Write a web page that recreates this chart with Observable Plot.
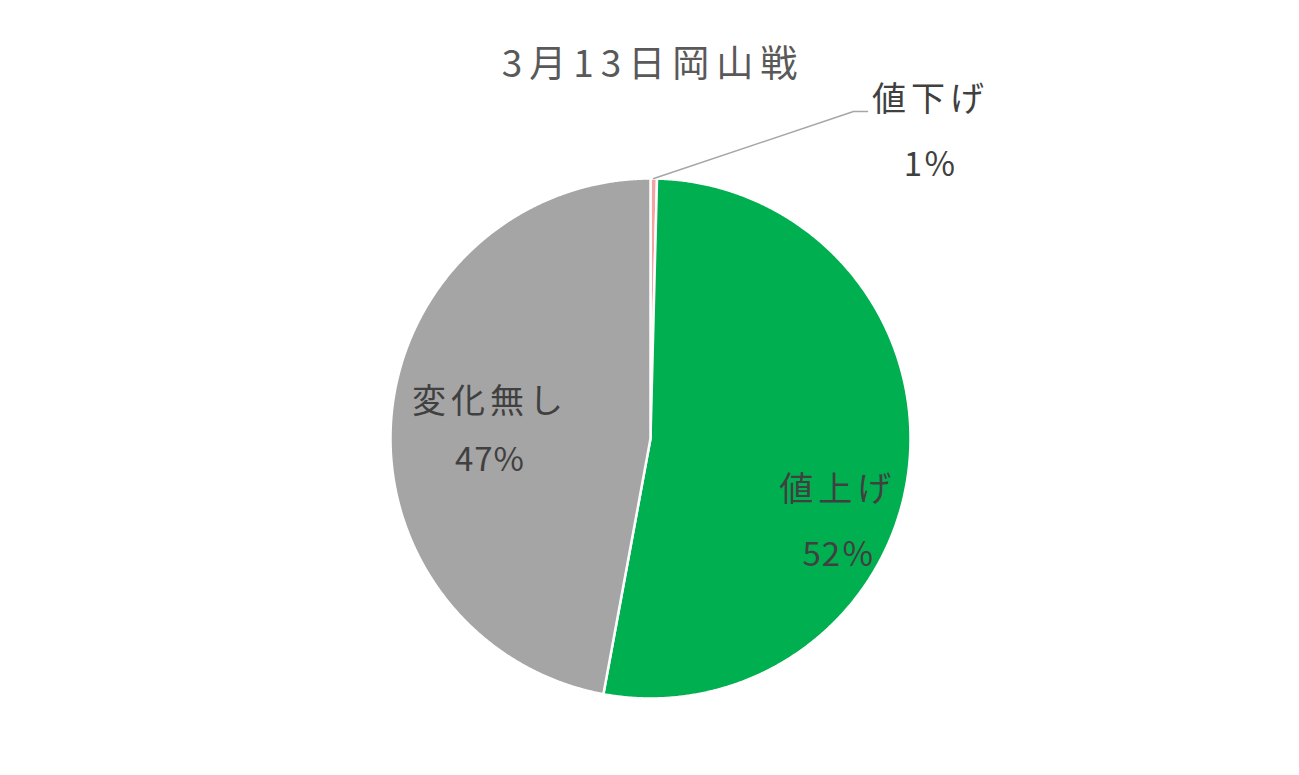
<!DOCTYPE html>
<html><head><meta charset="utf-8">
<script src="https://cdn.jsdelivr.net/npm/d3@7"></script>
<script src="https://cdn.jsdelivr.net/npm/@observablehq/plot@0.6"></script>
<style>
body{margin:0;background:#fff;font-family:"Noto Sans CJK JP",sans-serif;}
#wrap{position:relative;width:1299px;height:775px;overflow:hidden;}
#title{position:absolute;z-index:2;top:36px;left:0;width:1299px;text-align:center;font-size:37px;line-height:50px;color:#595959;letter-spacing:7px;padding-left:7px;box-sizing:border-box;}
#chart{position:absolute;z-index:1;top:0;left:0;}
#chart svg g.nm text{letter-spacing:5px;}
#chart svg g.pc text{letter-spacing:1px;}
</style></head><body>
<div id="wrap"><div id="chart"></div><div id="title"></div></div>
<script>
// ---- data ----
const titleText = "3月13日岡山戦";
const categories = ["値下げ", "値上げ", "変化無し"];
const values = [0.4, 52.5, 47.1];
const pctLabels = ["1％", "52％", "47%"];
const colors = ["#F4A3A3", "#00B050", "#A5A5A5"];

document.getElementById("title").textContent = titleText;

// ---- layout ----
const W = 1299, H = 775, cx = 650, cy = 438, R = 260;

const data = categories.map((c, i) => ({key: c, value: values[i], label: pctLabels[i], color: colors[i]}));
const arcs = d3.pie().sort(null).value(d => d.value)(data);
const pt = (a, r) => ({x: r * Math.sin(a), y: r * Math.cos(a)});

// slice polygons
const polys = [];
arcs.forEach(a => {
  const n = Math.max(2, Math.ceil((a.endAngle - a.startAngle) / 0.005));
  polys.push({key: a.data.key, ...pt(0, 0)});
  for (let i = 0; i <= n; i++) {
    const ang = a.startAngle + (a.endAngle - a.startAngle) * i / n;
    polys.push({key: a.data.key, ...pt(ang, R)});
  }
  polys.push({key: a.data.key, ...pt(0, 0)});
});

const mid = a => (a.startAngle + a.endAngle) / 2;
const inside = arcs.filter(a => a.data.value > 5).map(a => ({...a.data, ...pt(mid(a), 0.62 * R)}));
const small = arcs.filter(a => a.data.value <= 5);

// leader line for small slice
const leader = [];
small.forEach(a => {
  const p = pt(mid(a), R);
  leader.push({key: a.data.key, ...p});
  leader.push({key: a.data.key, x: 203, y: R + 67});
  leader.push({key: a.data.key, x: 217, y: R + 67});
});
const outside = small.map(a => ({...a.data, x: 280, y: R + 78}));

const colorMap = {domain: categories, range: colors};
const txt = "#404040";
const nm = {fontSize: 34, fill: txt, className: "nm"};
const pc = {fontSize: 33, fill: txt, className: "pc"};

const chart = Plot.plot({
  width: W, height: H,
  margin: 0,
  x: {domain: [-cx, W - cx], range: [0, W], axis: null},
  y: {domain: [cy, cy - H], range: [0, H], axis: null},
  color: colorMap,
  style: {fontFamily: '"Noto Sans CJK JP", sans-serif', background: "transparent"},
  marks: [
    Plot.line(polys, {x: "x", y: "y", z: "key", fill: "key", stroke: "#fff", strokeWidth: 2.5, curve: "linear"}),
    Plot.line(leader, {x: "x", y: "y", z: "key", stroke: "#A6A6A6", strokeWidth: 1.5}),
    // 変化無し
    Plot.text(inside.filter(d => d.key === "変化無し"), {x: "x", y: "y", text: "key", dy: -22, ...nm}),
    Plot.text(inside.filter(d => d.key === "変化無し"), {x: "x", y: "y", text: "label", dy: 37, ...pc}),
    // 値上げ
    Plot.text(inside.filter(d => d.key === "値上げ"), {x: "x", y: "y", text: "key", dx: 27, dy: 35, ...nm}),
    Plot.text(inside.filter(d => d.key === "値上げ"), {x: "x", y: "y", text: "label", dx: 28, dy: 100, ...pc}),
    // 値下げ (outside)
    Plot.text(outside, {x: "x", y: "y", text: "key", dy: 0, ...nm}),
    Plot.text(outside, {x: "x", y: "y", text: "label", dy: 65, ...pc})
  ]
});
document.getElementById("chart").appendChild(chart);
</script>
</body></html>
